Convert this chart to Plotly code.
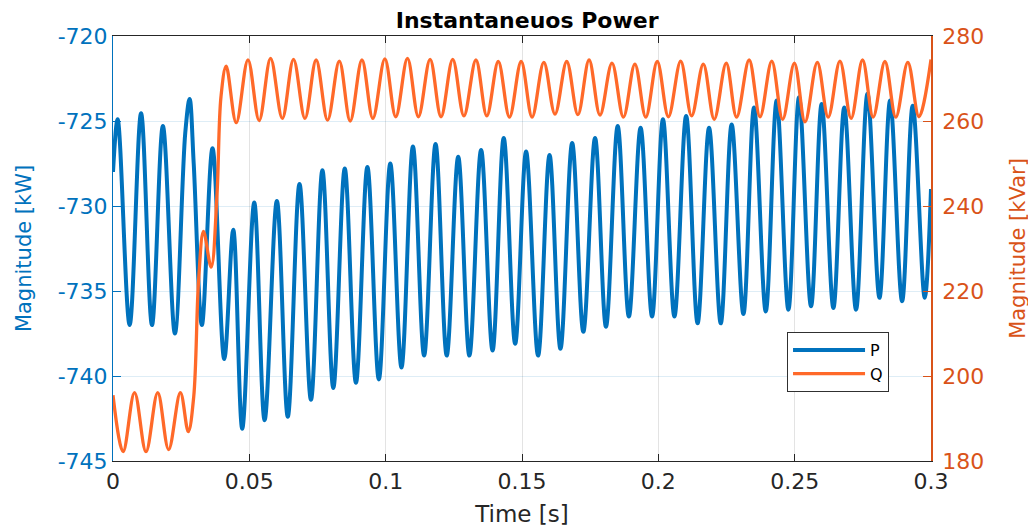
import plotly.graph_objects as go

# P (kW): peaks / troughs
t_p = [0.0, 0.0017, 0.0061, 0.0103, 0.0143, 0.0183, 0.0227, 0.0265, 0.0281, 0.0296,
       0.0326, 0.0365, 0.0408, 0.0441, 0.0474, 0.0518, 0.0556, 0.0601, 0.0641, 0.0684,
       0.0726, 0.0768, 0.0808, 0.0850, 0.0891, 0.0933, 0.0975, 0.1017, 0.1058, 0.1100,
       0.1141, 0.1183, 0.1224, 0.1266, 0.1307, 0.1350, 0.1392, 0.1433, 0.1475, 0.1515,
       0.1559, 0.1601, 0.1641, 0.1684, 0.1725, 0.1768, 0.1808, 0.1851, 0.1892, 0.1935,
       0.1977, 0.2017, 0.2059, 0.2102, 0.2144, 0.2186, 0.2229, 0.2269, 0.2312, 0.2351,
       0.2394, 0.2434, 0.2477, 0.2516, 0.2560, 0.2599, 0.2642, 0.2682, 0.2725, 0.2767,
       0.2811, 0.2850, 0.2894, 0.2933, 0.2977, 0.3]
p_vals = [-728.0, -724.9, -737.0, -724.55, -737.0, -725.3, -737.5, -725.7, -723.7, -727.5,
          -737.0, -726.6, -739.0, -731.4, -743.1, -729.8, -742.6, -729.7, -742.4, -728.7,
          -741.4, -727.9, -740.7, -727.8, -740.4, -727.7, -740.2, -727.5, -739.5, -726.5,
          -738.8, -726.35, -738.8, -727.1, -738.8, -726.7, -738.5, -726.0, -738.1, -726.8,
          -738.8, -727.0, -738.4, -726.3, -737.4, -726.0, -737.1, -725.3, -736.5, -725.4,
          -736.5, -724.9, -736.5, -724.7, -736.9, -725.4, -736.9, -725.2, -736.35, -724.2,
          -736.2, -723.8, -736.1, -723.6, -735.9, -724.0, -736.0, -724.2, -736.1, -723.4,
          -735.4, -723.8, -735.6, -724.1, -735.4, -729.0]

# Q (kVar): peaks / troughs
t_q = [0.0, 0.0037, 0.0079, 0.0121, 0.0164, 0.0204, 0.0247, 0.0276, 0.0296, 0.0314,
       0.0332, 0.0360, 0.0381, 0.0396, 0.0415, 0.0452, 0.0495, 0.0536, 0.0578, 0.0621,
       0.0662, 0.0704, 0.0745, 0.0787, 0.0830, 0.0870, 0.0913, 0.0953, 0.0997, 0.1037,
       0.1080, 0.1120, 0.1163, 0.1203, 0.1246, 0.1287, 0.1331, 0.1371, 0.1413, 0.1454,
       0.1497, 0.1537, 0.1580, 0.1621, 0.1664, 0.1705, 0.1746, 0.1786, 0.1830, 0.1872,
       0.1914, 0.1954, 0.1996, 0.2037, 0.2082, 0.2122, 0.2165, 0.2205, 0.2249, 0.2287,
       0.2333, 0.2373, 0.2416, 0.2456, 0.2499, 0.2538, 0.2583, 0.2623, 0.2666, 0.2707,
       0.2749, 0.2788, 0.2831, 0.2871, 0.2915, 0.2956, 0.3]
q_vals = [195.5, 182.2, 196.1, 182.2, 196.1, 182.7, 196.1, 186.9, 195.1, 222.6,
          234.0, 225.6, 242.2, 265.7, 272.9, 259.6, 274.4, 260.1, 274.75, 260.6,
          274.5, 260.6, 274.35, 260.2, 274.1, 260.0, 274.35, 260.6, 274.6, 261.0,
          274.75, 261.0, 274.5, 261.0, 274.5, 261.2, 274.35, 261.2, 274.0, 260.9,
          274.0, 260.9, 273.8, 261.6, 274.0, 261.5, 274.35, 261.4, 273.6, 260.9,
          273.4, 260.9, 274.0, 261.0, 274.1, 261.2, 273.4, 260.4, 273.6, 260.9,
          274.35, 261.0, 274.1, 260.4, 273.6, 259.8, 273.8, 260.9, 274.1, 260.6,
          274.35, 260.9, 274.0, 260.9, 273.8, 261.0, 274.5]

# left axis ticks, written with a plain hyphen like the original
p_ticks = [-745, -740, -735, -730, -725, -720]
p_tick_text = ['-745', '-740', '-735', '-730', '-725', '-720']

blue = '#0072BD'
orange = '#FF6929'
axis_orange = '#D95319'
font = 'DejaVu Sans'

fig = go.Figure()
fig.add_trace(go.Scatter(x=t_p, y=p_vals, name='P', mode='lines',
                         line=dict(color=blue, width=4, shape='spline')))
fig.add_trace(go.Scatter(x=t_q, y=q_vals, name='Q', mode='lines', yaxis='y2',
                         line=dict(color=orange, width=3.3, shape='spline')))

# the page body adds an 8px offset, so the figure is drawn 8px smaller
fig.update_layout(
    width=1028, height=524,
    margin=dict(l=105, r=105, t=28, b=71),
    paper_bgcolor='white', plot_bgcolor='white',
    showlegend=True,
    title=dict(text='<b>Instantaneuos Power</b>', x=0.505, xanchor='center',
               y=0.976, yanchor='middle',
               font=dict(family=font, size=22, color='black')),
    legend=dict(x=0.824, y=0.3035, xanchor='left', yanchor='top',
                bgcolor='white', bordercolor='#303030', borderwidth=1,
                font=dict(family=font, size=16, color='black'),
                itemwidth=72, tracegroupgap=0),
    xaxis=dict(range=[0, 0.3], dtick=0.05, showgrid=True, automargin=False,
               gridcolor='rgba(38,38,38,0.13)', zeroline=False,
               showline=True, linecolor='#262626', linewidth=1, mirror='ticks',
               ticks='inside', ticklen=7, tickcolor='#262626',
               ticklabelstandoff=1,
               tickfont=dict(family=font, size=22, color='#262626'),
               title=dict(text='Time [s]', standoff=12,
                          font=dict(family=font, size=23, color='#262626'))),
    yaxis=dict(range=[-745, -720], tickvals=p_ticks, ticktext=p_tick_text,
               automargin=False,
               showgrid=True, gridcolor='rgba(0,114,189,0.13)', zeroline=False,
               showline=True, linecolor=blue, linewidth=1,
               ticks='inside', ticklen=8, tickcolor=blue,
               ticklabelstandoff=0,
               tickfont=dict(family=font, size=22, color=blue),
               title=dict(text='Magnitude [kW]', standoff=20,
                          font=dict(family=font, size=21, color=blue))),
    yaxis2=dict(range=[180, 280], dtick=20, overlaying='y', side='right',
                showgrid=False, zeroline=False, automargin=False,
                showline=True, linecolor=axis_orange, linewidth=1.5,
                ticks='inside', ticklen=8, tickcolor=axis_orange,
                ticklabelstandoff=5,
                tickfont=dict(family=font, size=22, color=axis_orange),
                title=dict(text='Magnitude [kVar]', standoff=27,
                           font=dict(family=font, size=21, color=axis_orange))),
)

fig.write_html("out.html")
